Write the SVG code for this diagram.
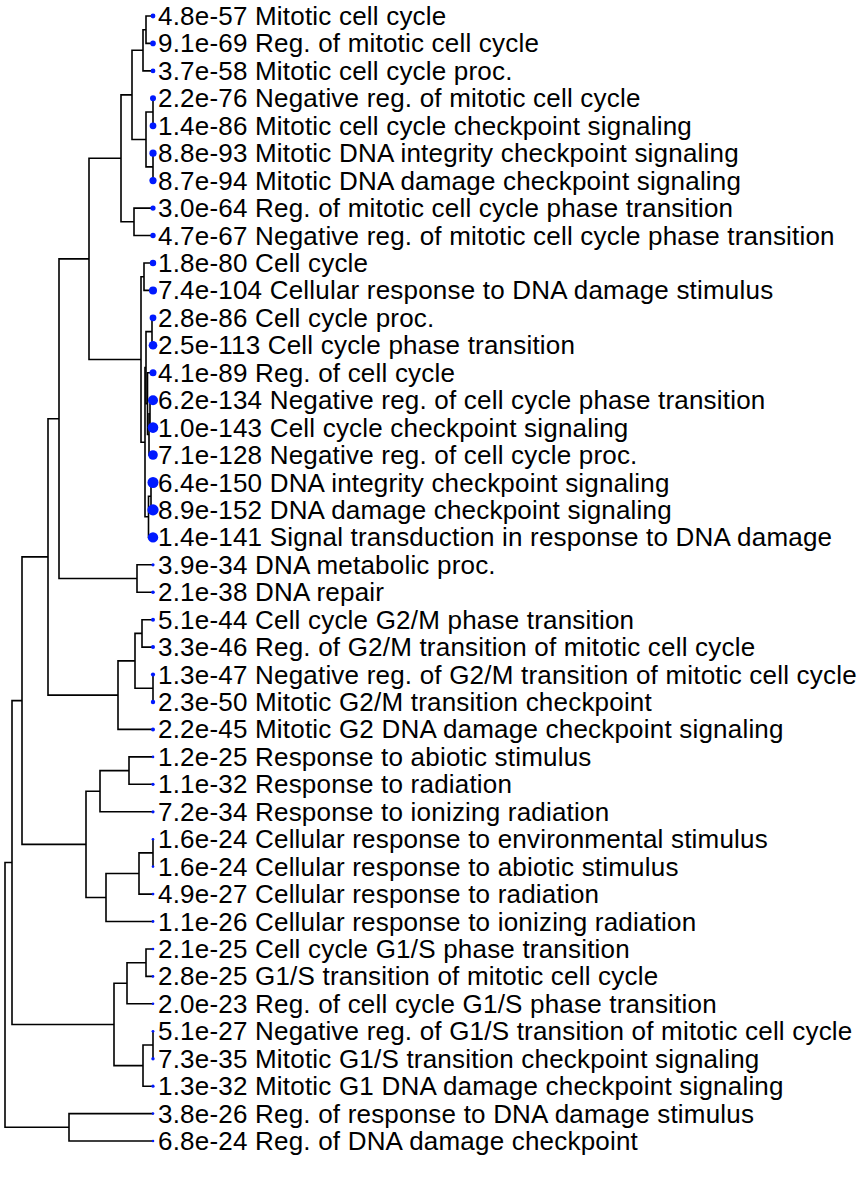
<svg xmlns="http://www.w3.org/2000/svg" width="862" height="1200" viewBox="0 0 862 1200">
<style>
.e{fill:none;stroke:#000;stroke-width:1.6}
.d{fill:#0019ff}
text{font-family:"Liberation Sans",Arial,sans-serif;font-size:26px;letter-spacing:0.2px;fill:#000}
</style>
<rect width="862" height="1200" fill="#fff"/>
<g id="connectors" class="e">
<path d="M153 16H146V43.4H153"/>
<path d="M146 29.7H143V70.9H153"/>
<path d="M153 98.3V125.8"/>
<path d="M153 153.2V180.6"/>
<path d="M153 112H146V166.9H153"/>
<path d="M143 50.3H132V139.5H146"/>
<path d="M153 208.1H134V235.5H153"/>
<path d="M132 94.9H121V221.8H134"/>
<path d="M153 263H144V290.4H153"/>
<path d="M153 317.8H152V345.3H153"/>
<path d="M153 400.2H150V427.6H153"/>
<path d="M150 413.9H149V455H153"/>
<path d="M153 372.7H147.5V434.5H149"/>
<path d="M152 331.6H146V403.6H147.5"/>
<path d="M153 482.5H151V509.9H153"/>
<path d="M151 496.2H148.5V537.4H153"/>
<path d="M146 367.6H145V516.8H148.5"/>
<path d="M144 276.7H141V442.2H145"/>
<path d="M121 158.3H89V359.5H141"/>
<path d="M153 564.8H137V592.2H153"/>
<path d="M89 258.9H59V578.5H137"/>
<path d="M153 619.7H142V647.1H153"/>
<path d="M153 674.6V702"/>
<path d="M142 633.4H135V688.3H153"/>
<path d="M135 660.9H118V729.4H153"/>
<path d="M59 418.7H48V695.1H118"/>
<path d="M153 756.9H129V784.3H153"/>
<path d="M129 770.6H100V811.8H153"/>
<path d="M153 839.2V866.6"/>
<path d="M153 852.9H139V894.1H153"/>
<path d="M139 873.5H106V921.5H153"/>
<path d="M100 791.2H86V897.5H106"/>
<path d="M48 556.9H22V844.4H86"/>
<path d="M153 949H146V976.4H153"/>
<path d="M146 962.7H127V1003.8H153"/>
<path d="M153 1031.3V1058.7"/>
<path d="M153 1045H143V1086.2H153"/>
<path d="M127 983.3H114V1065.6H143"/>
<path d="M22 700.6H12V1024.5H114"/>
<path d="M153 1113.6H69V1141H153"/>
<path d="M12 862.5H5V1127.3H69"/>
</g>
<g id="leaves">
<g id="n1"><circle class="d" cx="153" cy="16" r="2.4"/><text x="158" y="25">4.8e-57 Mitotic cell cycle</text></g>
<g id="n2"><circle class="d" cx="153" cy="43.4" r="2.8"/><text x="158" y="52.4">9.1e-69 Reg. of mitotic cell cycle</text></g>
<g id="n3"><circle class="d" cx="153" cy="70.9" r="2.4"/><text x="158" y="79.9">3.7e-58 Mitotic cell cycle proc.</text></g>
<g id="n4"><circle class="d" cx="153" cy="98.3" r="3"/><text x="158" y="107.3">2.2e-76 Negative reg. of mitotic cell cycle</text></g>
<g id="n5"><circle class="d" cx="153" cy="125.8" r="3.4"/><text x="158" y="134.8">1.4e-86 Mitotic cell cycle checkpoint signaling</text></g>
<g id="n6"><circle class="d" cx="153" cy="153.2" r="3.6"/><text x="158" y="162.2">8.8e-93 Mitotic DNA integrity checkpoint signaling</text></g>
<g id="n7"><circle class="d" cx="153" cy="180.6" r="3.6"/><text x="158" y="189.6">8.7e-94 Mitotic DNA damage checkpoint signaling</text></g>
<g id="n8"><circle class="d" cx="153" cy="208.1" r="2.6"/><text x="158" y="217.1">3.0e-64 Reg. of mitotic cell cycle phase transition</text></g>
<g id="n9"><circle class="d" cx="153" cy="235.5" r="2.7"/><text x="158" y="244.5">4.7e-67 Negative reg. of mitotic cell cycle phase transition</text></g>
<g id="n10"><circle class="d" cx="153" cy="263" r="3.2"/><text x="158" y="272">1.8e-80 Cell cycle</text></g>
<g id="n11"><circle class="d" cx="153" cy="290.4" r="4"/><text x="158" y="299.4">7.4e-104 Cellular response to DNA damage stimulus</text></g>
<g id="n12"><circle class="d" cx="153" cy="317.8" r="3.4"/><text x="158" y="326.8">2.8e-86 Cell cycle proc.</text></g>
<g id="n13"><circle class="d" cx="153" cy="345.3" r="4.3"/><text x="158" y="354.3">2.5e-113 Cell cycle phase transition</text></g>
<g id="n14"><circle class="d" cx="153" cy="372.7" r="3.5"/><text x="158" y="381.7">4.1e-89 Reg. of cell cycle</text></g>
<g id="n15"><circle class="d" cx="153" cy="400.2" r="5"/><text x="158" y="409.2">6.2e-134 Negative reg. of cell cycle phase transition</text></g>
<g id="n16"><circle class="d" cx="153" cy="427.6" r="5.3"/><text x="158" y="436.6">1.0e-143 Cell cycle checkpoint signaling</text></g>
<g id="n17"><circle class="d" cx="153" cy="455" r="4.8"/><text x="158" y="464">7.1e-128 Negative reg. of cell cycle proc.</text></g>
<g id="n18"><circle class="d" cx="153" cy="482.5" r="5.5"/><text x="158" y="491.5">6.4e-150 DNA integrity checkpoint signaling</text></g>
<g id="n19"><circle class="d" cx="153" cy="509.9" r="5.6"/><text x="158" y="518.9">8.9e-152 DNA damage checkpoint signaling</text></g>
<g id="n20"><circle class="d" cx="153" cy="537.4" r="5.2"/><text x="158" y="546.4">1.4e-141 Signal transduction in response to DNA damage</text></g>
<g id="n21"><circle class="d" cx="153" cy="564.8" r="1.6"/><text x="158" y="573.8">3.9e-34 DNA metabolic proc.</text></g>
<g id="n22"><circle class="d" cx="153" cy="592.2" r="1.8"/><text x="158" y="601.2">2.1e-38 DNA repair</text></g>
<g id="n23"><circle class="d" cx="153" cy="619.7" r="2"/><text x="158" y="628.7">5.1e-44 Cell cycle G2/M phase transition</text></g>
<g id="n24"><circle class="d" cx="153" cy="647.1" r="2"/><text x="158" y="656.1">3.3e-46 Reg. of G2/M transition of mitotic cell cycle</text></g>
<g id="n25"><circle class="d" cx="153" cy="674.6" r="2.1"/><text x="158" y="683.6">1.3e-47 Negative reg. of G2/M transition of mitotic cell cycle</text></g>
<g id="n26"><circle class="d" cx="153" cy="702" r="2.2"/><text x="158" y="711">2.3e-50 Mitotic G2/M transition checkpoint</text></g>
<g id="n27"><circle class="d" cx="153" cy="729.4" r="2"/><text x="158" y="738.4">2.2e-45 Mitotic G2 DNA damage checkpoint signaling</text></g>
<g id="n28"><circle class="d" cx="153" cy="756.9" r="1.3"/><text x="158" y="765.9">1.2e-25 Response to abiotic stimulus</text></g>
<g id="n29"><circle class="d" cx="153" cy="784.3" r="1.6"/><text x="158" y="793.3">1.1e-32 Response to radiation</text></g>
<g id="n30"><circle class="d" cx="153" cy="811.8" r="1.6"/><text x="158" y="820.8">7.2e-34 Response to ionizing radiation</text></g>
<g id="n31"><circle class="d" cx="153" cy="839.2" r="1.3"/><text x="158" y="848.2">1.6e-24 Cellular response to environmental stimulus</text></g>
<g id="n32"><circle class="d" cx="153" cy="866.6" r="1.3"/><text x="158" y="875.6">1.6e-24 Cellular response to abiotic stimulus</text></g>
<g id="n33"><circle class="d" cx="153" cy="894.1" r="1.4"/><text x="158" y="903.1">4.9e-27 Cellular response to radiation</text></g>
<g id="n34"><circle class="d" cx="153" cy="921.5" r="1.4"/><text x="158" y="930.5">1.1e-26 Cellular response to ionizing radiation</text></g>
<g id="n35"><circle class="d" cx="153" cy="949" r="1.3"/><text x="158" y="958">2.1e-25 Cell cycle G1/S phase transition</text></g>
<g id="n36"><circle class="d" cx="153" cy="976.4" r="1.3"/><text x="158" y="985.4">2.8e-25 G1/S transition of mitotic cell cycle</text></g>
<g id="n37"><circle class="d" cx="153" cy="1003.8" r="1.3"/><text x="158" y="1012.8">2.0e-23 Reg. of cell cycle G1/S phase transition</text></g>
<g id="n38"><circle class="d" cx="153" cy="1031.3" r="1.4"/><text x="158" y="1040.3">5.1e-27 Negative reg. of G1/S transition of mitotic cell cycle</text></g>
<g id="n39"><circle class="d" cx="153" cy="1058.7" r="1.7"/><text x="158" y="1067.7">7.3e-35 Mitotic G1/S transition checkpoint signaling</text></g>
<g id="n40"><circle class="d" cx="153" cy="1086.2" r="1.6"/><text x="158" y="1095.2">1.3e-32 Mitotic G1 DNA damage checkpoint signaling</text></g>
<g id="n41"><circle class="d" cx="153" cy="1113.6" r="1.3"/><text x="158" y="1122.6">3.8e-26 Reg. of response to DNA damage stimulus</text></g>
<g id="n42"><circle class="d" cx="153" cy="1141" r="1.3"/><text x="158" y="1150">6.8e-24 Reg. of DNA damage checkpoint</text></g>
</g>
</svg>
